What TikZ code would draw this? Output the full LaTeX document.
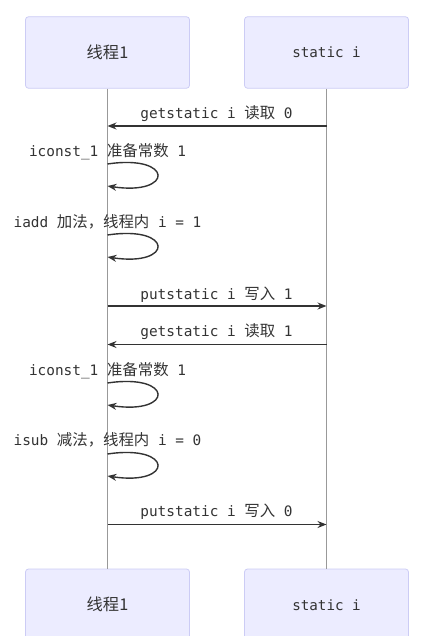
\documentclass[tikz,border=0pt]{standalone}
\usepackage{fontspec}
\setmonofont{DejaVu Sans Mono}
\newfontfamily\cjk[Scale=1.07]{Noto Sans CJK SC}
\usetikzlibrary{arrows.meta}
\definecolor{actfill}{HTML}{ECECFF}
\definecolor{actline}{HTML}{CCCCF5}
\definecolor{msgcol}{HTML}{333333}
\definecolor{lifecol}{HTML}{999999}
\newcommand\zh[1]{{\cjk #1}}
\begin{document}
\begin{tikzpicture}[x=1pt,y=-1pt,
  actor/.style={draw=actline,fill=actfill,rounded corners=3pt,minimum width=164pt,minimum height=71.5pt,inner sep=0pt,line width=0.8pt,font=\ttfamily\fontsize{14.2}{16}\selectfont,text=msgcol},
  lbl/.style={font=\ttfamily\fontsize{14.4}{16}\selectfont,anchor=base,inner sep=0pt,text=msgcol},
  lifeline/.style={draw=lifecol,line width=0.8pt},
  msgline/.style={draw=msgcol,line width=1.4pt,-{Stealth[length=9pt,width=7pt]}},
]
\useasboundingbox (0,0) rectangle (439,636);
\clip (0,0) rectangle (439,636);
% actors
\node[actor] (t1) at (107.5,52.5) {\fontsize{15.2}{17}\selectfont\zh{线程1}};
\node[actor] (t2) at (326.5,52.5) {static i};
\node[actor] (b1) at (107.5,604.75) {\fontsize{15.2}{17}\selectfont\zh{线程1}};
\node[actor] (b2) at (326.5,604.75) {static i};
% lifelines
\draw[lifeline] (t1.south) -- (b1.north);
\draw[lifeline] (t2.south) -- (b2.north);
% message 1
\coordinate (m1a) at (326.5,126);
\coordinate (m1b) at (107.5,126);
\draw[msgline] (m1a) -- (m1b);
\node[lbl] (l1) at (216.5,119) {getstatic i \zh{读取} 0};
% loop 1
\coordinate (s1a) at (107.5,164);
\coordinate (s1b) at (107.5,186);
\node[lbl] (l2) at (107.5,156.7) {iconst\_1 \zh{准备常数} 1};
\draw[msgline] (s1a) .. controls (174,154) and (174,196) .. (s1b);
% loop 2
\coordinate (s2a) at (107.5,235);
\coordinate (s2b) at (107.5,257);
\node[lbl] (l3) at (107.5,227.3) {iadd \zh{加法，线程内} i = 1};
\draw[msgline] (s2a) .. controls (174,225) and (174,267) .. (s2b);
% message 4
\coordinate (m4a) at (107.5,306);
\coordinate (m4b) at (326.5,306);
\draw[msgline] (m4a) -- (m4b);
\node[lbl] (l4) at (216.5,299) {putstatic i \zh{写入} 1};
% message 5
\coordinate (m5a) at (326.5,344.5);
\coordinate (m5b) at (107.5,344.5);
\draw[msgline] (m5a) -- (m5b);
\node[lbl] (l5) at (216.5,336.8) {getstatic i \zh{读取} 1};
% loop 3
\coordinate (s3a) at (107.5,383);
\coordinate (s3b) at (107.5,405);
\node[lbl] (l6) at (107.5,375) {iconst\_1 \zh{准备常数} 1};
\draw[msgline] (s3a) .. controls (174,373) and (174,415) .. (s3b);
% loop 4
\coordinate (s4a) at (107.5,454);
\coordinate (s4b) at (107.5,476);
\node[lbl] (l7) at (107.5,445.7) {isub \zh{减法，线程内} i = 0};
\draw[msgline] (s4a) .. controls (174,444) and (174,486) .. (s4b);
% message 8
\coordinate (m8a) at (107.5,524.5);
\coordinate (m8b) at (326.5,524.5);
\draw[msgline] (m8a) -- (m8b);
\node[lbl] (l8) at (216.5,516.8) {putstatic i \zh{写入} 0};
\end{tikzpicture}
\end{document}
